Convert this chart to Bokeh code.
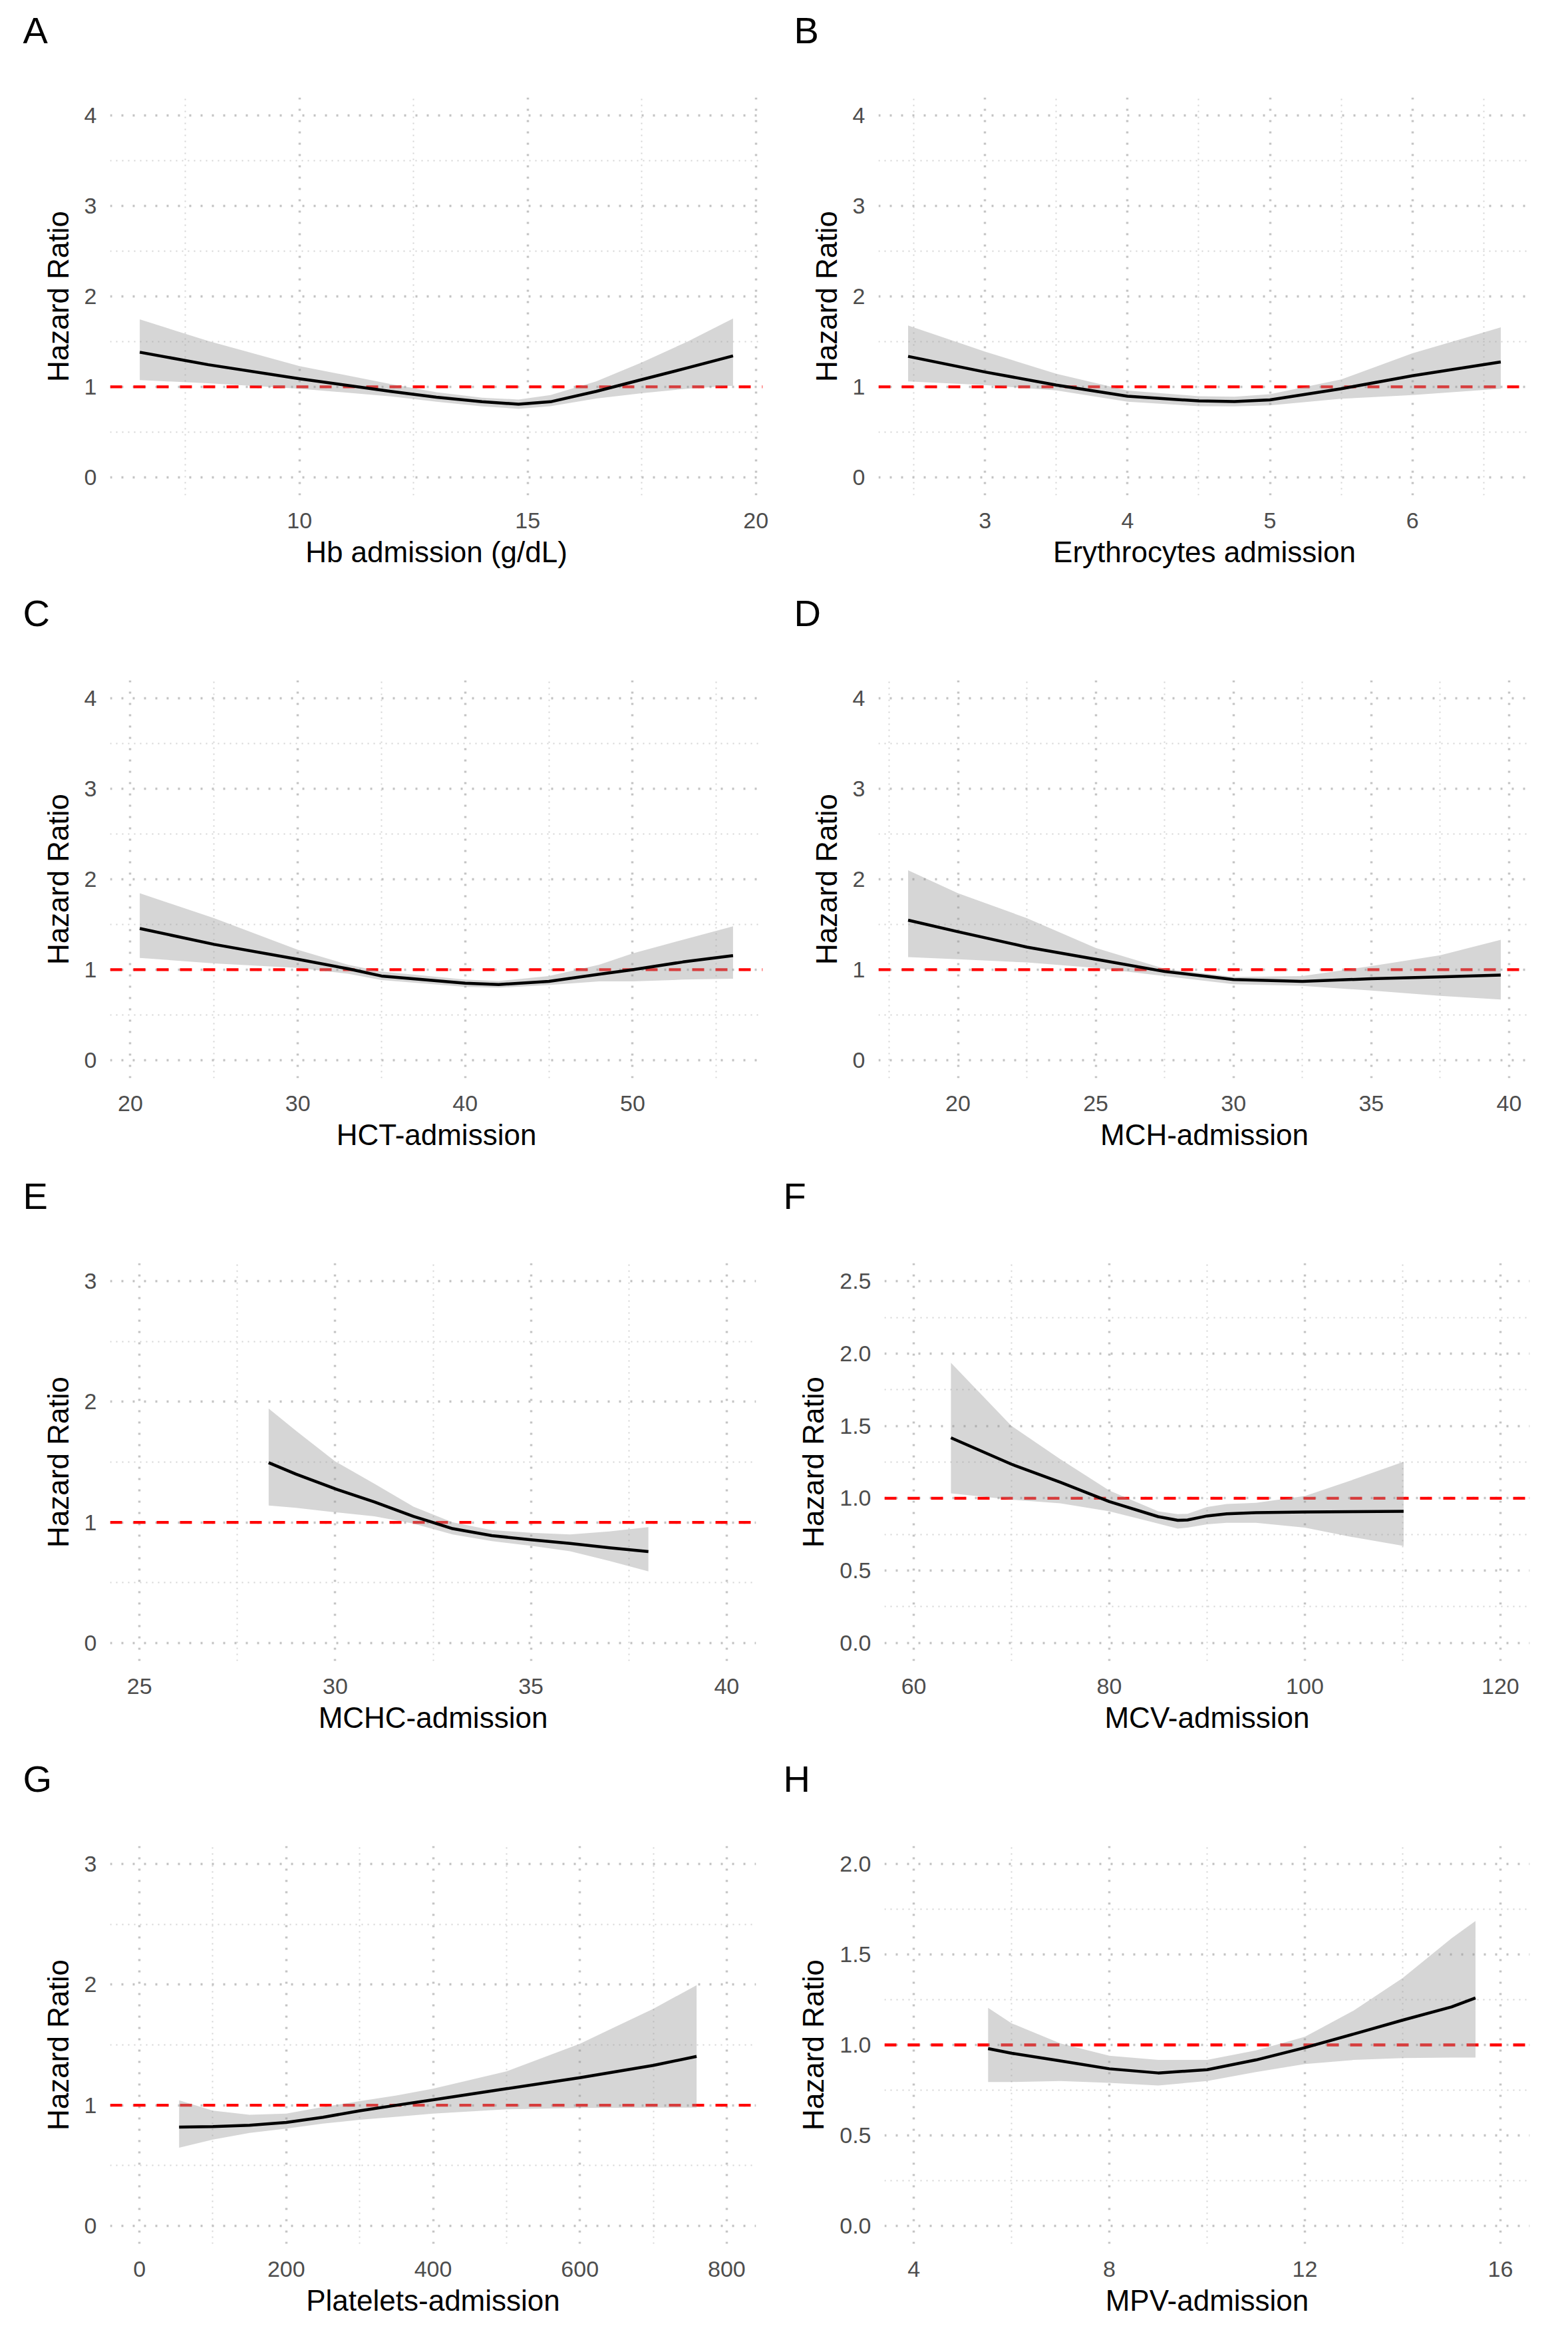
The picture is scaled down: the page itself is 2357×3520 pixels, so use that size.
from bokeh.plotting import figure
from bokeh.models import Range1d, FixedTicker, Title
from bokeh.layouts import column, row
from bokeh.embed import file_html
from bokeh.resources import INLINE

FONT = "Liberation Sans"
Y_LABEL = "Hazard Ratio"
HR_REF = 1.0

# ---------------- data ----------------
# A: Hb admission (g/dL)
hb_x = [6.5, 8.0, 10.0, 12.0, 13.0, 14.0, 14.8, 15.5, 16.5, 17.5, 18.5, 19.5]
hb_est = [1.383, 1.245, 1.09, 0.95, 0.885, 0.835, 0.808, 0.835, 0.95, 1.08, 1.21, 1.342]
hb_hi = [1.746, 1.507, 1.23, 1.03, 0.94, 0.88, 0.86, 0.909, 1.06, 1.27, 1.50, 1.755]
hb_lo = [1.074, 1.04, 0.98, 0.895, 0.835, 0.785, 0.757, 0.786, 0.87, 0.93, 0.98, 1.012]

# B: Erythrocytes admission
ery_x = [2.46, 3.0, 3.5, 4.0, 4.5, 4.75, 5.0, 5.5, 6.0, 6.62]
ery_est = [1.337, 1.164, 1.02, 0.897, 0.844, 0.838, 0.856, 0.979, 1.123, 1.275]
ery_hi = [1.678, 1.39, 1.144, 0.959, 0.897, 0.89, 0.918, 1.082, 1.37, 1.657]
ery_lo = [1.06, 1.02, 0.96, 0.836, 0.786, 0.785, 0.795, 0.868, 0.91, 0.98]

# C: HCT-admission
hct_x = [20.56, 25, 30, 33, 35, 40, 42, 45, 48, 50, 53, 56]
hct_est = [1.456, 1.28, 1.115, 1.01, 0.93, 0.85, 0.836, 0.87, 0.95, 1.0, 1.085, 1.155]
hct_hi = [1.845, 1.57, 1.22, 1.055, 0.98, 0.89, 0.875, 0.93, 1.055, 1.18, 1.33, 1.48]
hct_lo = [1.13, 1.07, 1.02, 0.955, 0.885, 0.81, 0.80, 0.83, 0.87, 0.87, 0.89, 0.90]

# D: MCH-admission
mch_x = [18.19, 20, 22.5, 25, 27.5, 30, 32.5, 35, 37.5, 39.7]
mch_est = [1.547, 1.42, 1.25, 1.115, 0.98, 0.89, 0.87, 0.90, 0.92, 0.94]
mch_hi = [2.10, 1.845, 1.57, 1.24, 1.01, 0.92, 0.93, 1.04, 1.16, 1.33]
mch_lo = [1.14, 1.115, 1.08, 1.02, 0.93, 0.84, 0.82, 0.77, 0.71, 0.67]

# E: MCHC-admission
mchc_x = [28.3, 29, 30, 31, 32, 33, 34, 35, 36, 37, 38]
mchc_est = [1.495, 1.40, 1.278, 1.17, 1.05, 0.948, 0.89, 0.856, 0.826, 0.79, 0.758]
mchc_hi = [1.944, 1.76, 1.506, 1.32, 1.13, 1.0, 0.936, 0.913, 0.90, 0.925, 0.96]
mchc_lo = [1.14, 1.12, 1.084, 1.05, 0.99, 0.90, 0.845, 0.806, 0.76, 0.68, 0.594]

# F: MCV-admission
mcv_x = [63.8, 70, 75, 80, 85, 87, 88, 90, 92, 95, 100, 105, 110.1]
mcv_est = [1.418, 1.235, 1.11, 0.977, 0.873, 0.848, 0.85, 0.878, 0.892, 0.90, 0.905, 0.907, 0.91]
mcv_hi = [1.936, 1.50, 1.27, 1.053, 0.91, 0.89, 0.893, 0.94, 0.96, 0.968, 1.015, 1.13, 1.252]
mcv_lo = [1.034, 0.99, 0.965, 0.91, 0.825, 0.79, 0.797, 0.82, 0.83, 0.83, 0.797, 0.73, 0.67]

# G: Platelets-admission
plt_x = [54, 100, 150, 200, 250, 300, 350, 400, 500, 600, 700, 759]
plt_est = [0.818, 0.822, 0.834, 0.857, 0.90, 0.954, 1.0, 1.045, 1.137, 1.228, 1.33, 1.405]
plt_hi = [1.04, 0.955, 0.92, 0.93, 0.985, 1.034, 1.08, 1.137, 1.28, 1.51, 1.80, 1.995]
plt_lo = [0.647, 0.715, 0.77, 0.806, 0.847, 0.879, 0.904, 0.93, 0.966, 0.977, 0.98, 0.98]

# H: MPV-admission
mpv_x = [5.52, 6, 7, 8, 9, 10, 11, 12, 13, 14, 15, 15.49]
mpv_est = [0.98, 0.954, 0.912, 0.868, 0.845, 0.863, 0.917, 0.985, 1.06, 1.137, 1.21, 1.26]
mpv_hi = [1.205, 1.12, 1.008, 0.94, 0.917, 0.917, 0.97, 1.045, 1.19, 1.37, 1.59, 1.685]
mpv_lo = [0.795, 0.795, 0.80, 0.79, 0.776, 0.80, 0.85, 0.894, 0.917, 0.927, 0.93, 0.93]

# tick values and labels
yt_4 = [0, 1, 2, 3, 4]
yl_4 = ["0", "1", "2", "3", "4"]
ym_4 = [0.5, 1.5, 2.5, 3.5]
yt_3 = [0, 1, 2, 3]
yl_3 = ["0", "1", "2", "3"]
ym_3 = [0.5, 1.5, 2.5]
yt_25 = [0, 0.5, 1, 1.5, 2, 2.5]
yl_25 = ["0.0", "0.5", "1.0", "1.5", "2.0", "2.5"]
ym_25 = [0.25, 0.75, 1.25, 1.75, 2.25]
yt_2 = [0, 0.5, 1, 1.5, 2]
yl_2 = ["0.0", "0.5", "1.0", "1.5", "2.0"]
ym_2 = [0.25, 0.75, 1.25, 1.75]

panels = [
    dict(tag="A", xlabel="Hb admission (g/dL)", x=hb_x, est=hb_est, lo=hb_lo, hi=hb_hi,
         xlim=None, ylim=[0, 4],
         xt=[10, 15, 20], xl=["10", "15", "20"], xm=[7.5, 12.5, 17.5],
         yt=yt_4, yl=yl_4, ym=ym_4, bl=165, br=24, toff=-131),
    dict(tag="B", xlabel="Erythrocytes admission", x=ery_x, est=ery_est, lo=ery_lo, hi=ery_hi,
         xlim=None, ylim=[0, 4],
         xt=[3, 4, 5, 6], xl=["3", "4", "5", "6"], xm=[2.5, 3.5, 4.5, 5.5, 6.5],
         yt=yt_4, yl=yl_4, ym=ym_4, bl=150, br=40, toff=-127),
    dict(tag="C", xlabel="HCT-admission", x=hct_x, est=hct_est, lo=hct_lo, hi=hct_hi,
         xlim=None, ylim=[0, 4],
         xt=[20, 30, 40, 50], xl=["20", "30", "40", "50"], xm=[25, 35, 45, 55],
         yt=yt_4, yl=yl_4, ym=ym_4, bl=165, br=24, toff=-131),
    dict(tag="D", xlabel="MCH-admission", x=mch_x, est=mch_est, lo=mch_lo, hi=mch_hi,
         xlim=None, ylim=[0, 4],
         xt=[20, 25, 30, 35, 40], xl=["20", "25", "30", "35", "40"],
         xm=[17.5, 22.5, 27.5, 32.5, 37.5],
         yt=yt_4, yl=yl_4, ym=ym_4, bl=150, br=40, toff=-127),
    dict(tag="E", xlabel="MCHC-admission", x=mchc_x, est=mchc_est, lo=mchc_lo, hi=mchc_hi,
         xlim=[25, 40], ylim=[0, 3],
         xt=[25, 30, 35, 40], xl=["25", "30", "35", "40"], xm=[27.5, 32.5, 37.5],
         yt=yt_3, yl=yl_3, ym=ym_3, bl=165, br=34, toff=-131),
    dict(tag="F", xlabel="MCV-admission", x=mcv_x, est=mcv_est, lo=mcv_lo, hi=mcv_hi,
         xlim=[60, 120], ylim=[0, 2.5],
         xt=[60, 80, 100, 120], xl=["60", "80", "100", "120"], xm=[70, 90, 110],
         yt=yt_25, yl=yl_25, ym=ym_25, bl=159, br=41, toff=-152),
    dict(tag="G", xlabel="Platelets-admission", x=plt_x, est=plt_est, lo=plt_lo, hi=plt_hi,
         xlim=[0, 800], ylim=[0, 3],
         xt=[0, 200, 400, 600, 800], xl=["0", "200", "400", "600", "800"],
         xm=[100, 300, 500, 700],
         yt=yt_3, yl=yl_3, ym=ym_3, bl=165, br=34, toff=-131),
    dict(tag="H", xlabel="MPV-admission", x=mpv_x, est=mpv_est, lo=mpv_lo, hi=mpv_hi,
         xlim=[4, 16], ylim=[0, 2],
         xt=[4, 8, 12, 16], xl=["4", "8", "12", "16"], xm=[6, 10, 14],
         yt=yt_2, yl=yl_2, ym=ym_2, bl=159, br=41, toff=-152),
]

W, H = 1170, 876
BT, BB = 146, 132


def expand(lo, hi, frac=0.05):
    d = (hi - lo) * frac
    return lo - d, hi + d


def key(v):
    return int(v) if float(v).is_integer() else v


def make_panel(c):
    if c["xlim"] is None:
        x0, x1 = expand(min(c["x"]), max(c["x"]))
    else:
        x0, x1 = expand(c["xlim"][0], c["xlim"][1])
    y0, y1 = expand(c["ylim"][0], c["ylim"][1])
    p = figure(width=W, height=H, x_range=Range1d(x0, x1), y_range=Range1d(y0, y1),
               output_backend="svg", toolbar_location=None,
               min_border_left=c["bl"], min_border_right=c["br"],
               min_border_top=BT, min_border_bottom=BB,
               background_fill_color="white", border_fill_color="white")
    p.outline_line_color = None
    # panel tag (farthest from the frame)
    p.title.text = c["tag"]
    p.title.text_font = FONT
    p.title.text_font_size = "56px"
    p.title.text_font_style = "normal"
    p.title.text_color = "black"
    p.title.align = "left"
    p.title.offset = c["toff"]
    p.title.standoff = 0
    # spacing panel between tag and frame
    p.add_layout(Title(text=" ", text_font_size="10px", text_color="white",
                       standoff=57), "above")

    p.xaxis.ticker = FixedTicker(ticks=c["xt"], minor_ticks=c["xm"])
    p.yaxis.ticker = FixedTicker(ticks=c["yt"], minor_ticks=c["ym"])
    p.xaxis.major_label_overrides = {key(v): s for v, s in zip(c["xt"], c["xl"])}
    p.yaxis.major_label_overrides = {key(v): s for v, s in zip(c["yt"], c["yl"])}
    for ax in (p.xaxis[0], p.yaxis[0]):
        ax.axis_line_color = None
        ax.major_tick_line_color = None
        ax.minor_tick_line_color = None
        ax.major_tick_out = 0
        ax.major_tick_in = 0
        ax.minor_tick_out = 0
        ax.minor_tick_in = 0
        ax.major_label_text_font = FONT
        ax.major_label_text_font_size = "34px"
        ax.major_label_text_color = "#4d4d4d"
        ax.axis_label_text_font = FONT
        ax.axis_label_text_font_size = "44px"
        ax.axis_label_text_font_style = "normal"
        ax.axis_label_text_color = "black"
    p.xaxis.axis_label = c["xlabel"]
    p.yaxis.axis_label = Y_LABEL
    p.xaxis.major_label_standoff = 26
    p.yaxis.major_label_standoff = 20
    p.xaxis.axis_label_standoff = 8
    p.yaxis.axis_label_standoff = 12

    for g in (p.xgrid[0], p.ygrid[0]):
        g.grid_line_color = "#c4c4c4"
        g.grid_line_width = 3.5
        g.grid_line_dash = "3 14"
        g.minor_grid_line_color = "#d4d4d4"
        g.minor_grid_line_width = 2
        g.minor_grid_line_dash = "2 7"

    p.line(x=[x0, x1], y=[HR_REF, HR_REF], line_color="red", line_width=4.4,
           line_dash="18 17")
    p.varea(x=c["x"], y1=c["lo"], y2=c["hi"], fill_color="#999999", fill_alpha=0.4)
    p.line(x=c["x"], y=c["est"], line_color="black", line_width=4.5, line_join="round")
    return p


figs = [make_panel(c) for c in panels]
layout = column(
    row(figs[0], figs[1]),
    row(figs[2], figs[3]),
    row(figs[4], figs[5]),
    row(figs[6], figs[7]),
)

open("out.html", "w").write(file_html(layout, INLINE))
